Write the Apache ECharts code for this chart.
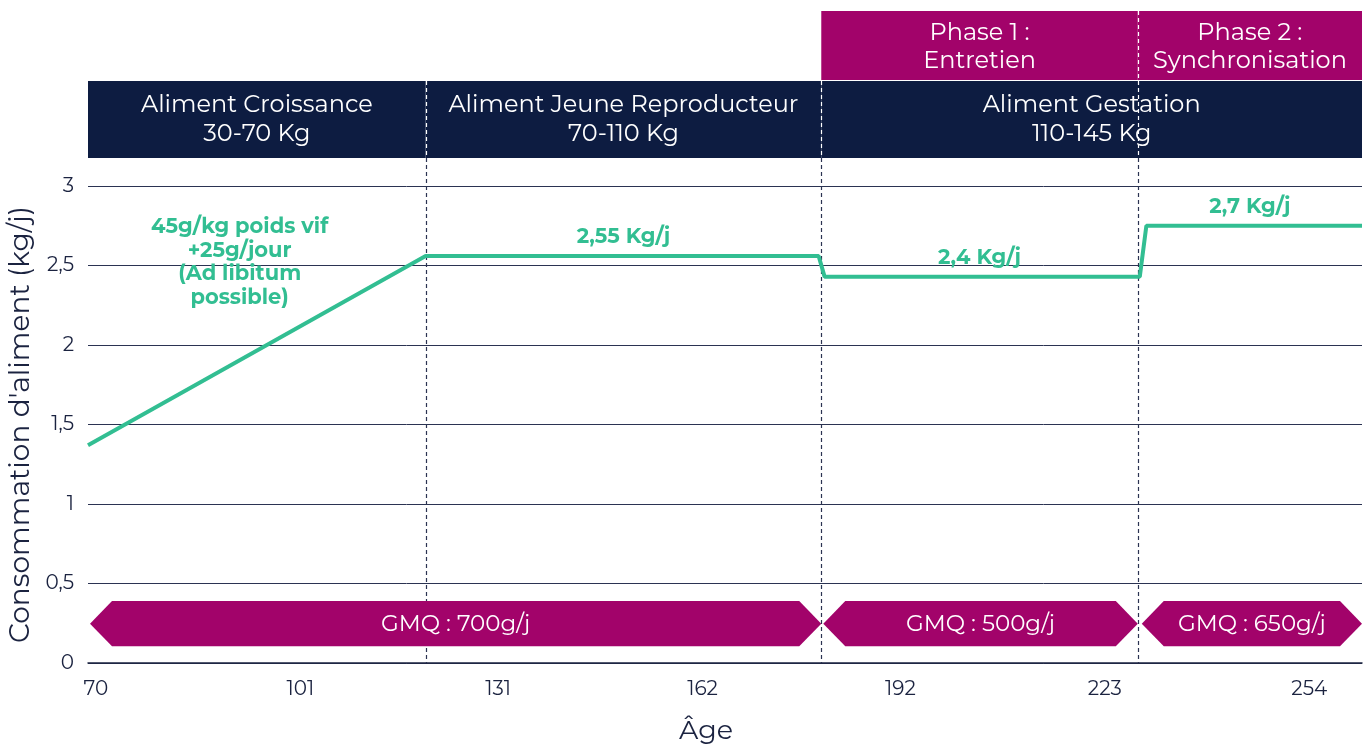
<!DOCTYPE html>
<html>
<head>
<meta charset="utf-8">
<script src="https://cdn.jsdelivr.net/npm/echarts@6/dist/echarts.min.js"></script>
<style>
  html, body { margin: 0; padding: 0; background: #fff; }
  #chart { width: 1370px; height: 744px; }
</style>
</head>
<body>
<div id="chart"></div>
<script>
// jours d'age et consommation (kg/j)
var days = [68.8, 120, 179.6, 180.5, 228.3, 229.3, 262];
var intake = [1.37, 2.56, 2.56, 2.43, 2.43, 2.75, 2.75];

var xTicks = [70, 101, 131, 162, 192, 223, 254];

// aliments (bandeau bleu)
var feedNames = ['Aliment Croissance\n30-70 Kg', 'Aliment Jeune Reproducteur\n70-110 Kg', 'Aliment Gestation\n110-145 Kg'];
var feedStart = [68.8, 120, 180];
var feedEnd = [120, 180, 262];

// phases (bandeau violet)
var phaseNames = ['Phase 1 :\nEntretien', 'Phase 2 :\nSynchronisation'];
var phaseStart = [180, 228];
var phaseEnd = [228, 262];

// GMQ (flèches)
var gmqNames = ['GMQ : 700g/j', 'GMQ : 500g/j', 'GMQ : 650g/j'];
var gmqStart = [68.8, 180, 228.3];
var gmqEnd = [180, 228, 262];

// étiquettes vertes
var rateNames = ['2,55 Kg/j', '2,4 Kg/j', '2,7 Kg/j'];
var rateDays = [150, 204, 245];
var rateLevels = [2.56, 2.43, 2.75];
var noteText = '45g/kg poids vif\n+25g/jour\n(Ad libitum\npossible)';
var noteDay = 91.8;
var noteLevel = 2.52;

var navy = '#0d1c41';
var magenta = '#a2036a';
var green = '#32be92';
var ink = '#1b2340';
var FONT = 'Montserrat, "DejaVu Sans", sans-serif';

var chart = echarts.init(document.getElementById('chart'));

var HEAD_TOP = 11, HEAD_MID = 81, HEAD_BOT = 158;

function xPix(api, d) {
    return api.coord([d, 0])[0];
}

chart.setOption({
    animation: false,
    grid: { left: 88, right: 8, top: 186, bottom: 81, outerBoundsMode: 'none' },
    xAxis: {
        type: 'value',
        min: 68.8,
        max: 262,
        name: 'Âge',
        nameLocation: 'middle',
        nameGap: 55,
        nameTextStyle: { fontSize: 27, color: ink, fontFamily: FONT, padding: [0, 38, 0, 0] },
        axisLine: { lineStyle: { color: ink, width: 1.5 } },
        axisTick: { show: false },
        splitLine: { show: false },
        axisLabel: {
            customValues: xTicks,
            margin: 16,
            fontSize: 20,
            color: ink,
            fontFamily: FONT
        }
    },
    yAxis: {
        type: 'value',
        min: 0,
        max: 3,
        interval: 0.5,
        name: "Consommation d'aliment (kg/j)",
        nameLocation: 'middle',
        nameGap: 52,
        nameTextStyle: { fontSize: 28, color: ink, fontFamily: FONT },
        axisLine: { show: false },
        axisTick: { show: false },
        splitLine: { lineStyle: { color: '#2b3352', width: 1 } },
        axisLabel: {
            margin: 14,
            fontSize: 20,
            color: ink,
            fontFamily: FONT,
            formatter: function (v) { return String(v).replace('.', ','); }
        }
    },
    series: [
        // lignes pointillées verticales
        {
            type: 'custom',
            clip: false,
            z: 1,
            silent: true,
            data: [120, 180, 228],
            renderItem: function (params, api) {
                var x = Math.round(xPix(api, api.value(0))) + 0.5;
                var y0 = api.coord([0, 0])[1];
                return {
                    type: 'line',
                    shape: { x1: x, y1: HEAD_BOT, x2: x, y2: y0 },
                    style: { stroke: '#2b3352', lineWidth: 1.2, lineDash: [4, 3] }
                };
            }
        },
        // bandeau aliments
        {
            type: 'custom',
            clip: false,
            z: 2,
            silent: true,
            data: feedNames.map(function (n, i) { return [feedStart[i], feedEnd[i]]; }),
            renderItem: function (params, api) {
                var x0 = xPix(api, api.value(0));
                var x1 = xPix(api, api.value(1));
                var i = params.dataIndex;
                var children = [
                    { type: 'rect', shape: { x: x0, y: HEAD_MID, width: x1 - x0, height: HEAD_BOT - HEAD_MID }, style: { fill: navy } },
                    { type: 'text', style: { text: feedNames[i], x: (x0 + x1) / 2, y: (HEAD_MID + HEAD_BOT) / 2, align: 'center', verticalAlign: 'middle', fill: '#fff', fontSize: 24, lineHeight: 29, fontFamily: FONT } }
                ];
                if (i > 0) {
                    var xs = Math.round(x0) + 0.5;
                    children.push({ type: 'line', shape: { x1: xs, y1: HEAD_MID, x2: xs, y2: HEAD_BOT }, style: { stroke: '#fff', lineWidth: 1.2, lineDash: [4, 3] }, z2: 10 });
                }
                return { type: 'group', children: children };
            }
        },
        // bandeau phases
        {
            type: 'custom',
            clip: false,
            z: 2,
            silent: true,
            data: phaseNames.map(function (n, i) { return [phaseStart[i], phaseEnd[i]]; }),
            renderItem: function (params, api) {
                var x0 = xPix(api, api.value(0));
                var x1 = xPix(api, api.value(1));
                var i = params.dataIndex;
                var children = [
                    { type: 'rect', shape: { x: x0, y: HEAD_TOP, width: x1 - x0, height: HEAD_MID - HEAD_TOP - 1 }, style: { fill: magenta } },
                    { type: 'text', style: { text: phaseNames[i], x: (x0 + x1) / 2, y: (HEAD_TOP + HEAD_MID) / 2 + 1, align: 'center', verticalAlign: 'middle', fill: '#fff', fontSize: 24, lineHeight: 28, fontFamily: FONT } }
                ];
                if (i > 0) {
                    var xs = Math.round(x0) + 0.5;
                    children.push({ type: 'line', shape: { x1: xs, y1: HEAD_TOP, x2: xs, y2: HEAD_BOT }, style: { stroke: '#fff', lineWidth: 1.2, lineDash: [4, 3] }, z2: 10 });
                }
                return { type: 'group', children: children };
            }
        },
        // flèches GMQ
        {
            type: 'custom',
            clip: false,
            z: 3,
            silent: true,
            data: gmqNames.map(function (n, i) { return [gmqStart[i], gmqEnd[i]]; }),
            renderItem: function (params, api) {
                var x0 = xPix(api, api.value(0)) + 2;
                var x1 = xPix(api, api.value(1));
                var yt = api.coord([0, 0.39])[1];
                var yb = api.coord([0, 0.105])[1];
                var ym = (yt + yb) / 2;
                var d = 22;
                return {
                    type: 'group',
                    children: [
                        { type: 'polygon', shape: { points: [[x0, ym], [x0 + d, yt], [x1 - d, yt], [x1, ym], [x1 - d, yb], [x0 + d, yb]] }, style: { fill: magenta } },
                        { type: 'text', style: { text: gmqNames[params.dataIndex], x: (x0 + x1) / 2, y: ym + 1, align: 'center', verticalAlign: 'middle', fill: '#fff', fontSize: 23, fontFamily: FONT } }
                    ]
                };
            }
        },
        // consommation
        {
            type: 'line',
            z: 4,
            data: days.map(function (d, i) { return [d, intake[i]]; }),
            symbol: 'none',
            lineStyle: { color: green, width: 4 },
            silent: true
        },
        // étiquettes vertes
        {
            type: 'custom',
            clip: false,
            z: 5,
            silent: true,
            data: rateNames.map(function (n, i) { return [rateDays[i], rateLevels[i]]; }),
            renderItem: function (params, api) {
                var p = api.coord([api.value(0), api.value(1)]);
                return {
                    type: 'text',
                    style: { text: rateNames[params.dataIndex], x: p[0], y: p[1] - 19, align: 'center', verticalAlign: 'middle', fill: green, fontSize: 21, fontWeight: 'bold', fontFamily: FONT }
                };
            }
        },
        {
            type: 'custom',
            clip: false,
            z: 5,
            silent: true,
            data: [[noteDay, noteLevel]],
            renderItem: function (params, api) {
                var p = api.coord([api.value(0), api.value(1)]);
                return {
                    type: 'text',
                    style: { text: noteText, x: p[0], y: p[1], align: 'center', verticalAlign: 'middle', fill: green, fontSize: 21, fontWeight: 'bold', lineHeight: 23.5, fontFamily: FONT }
                };
            }
        }
    ]
});
</script>
</body>
</html>
